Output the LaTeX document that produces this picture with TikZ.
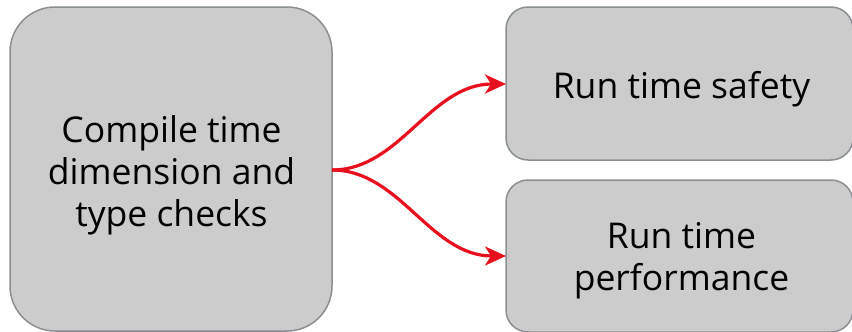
\documentclass[tikz,border=0pt]{standalone}
\usepackage{fontspec}
\setmainfont{Open Sans}
\usetikzlibrary{arrows.meta}
\definecolor{boxfill}{HTML}{CCCCCC}
\definecolor{boxline}{HTML}{8A8F92}
\definecolor{arrowred}{HTML}{E8101E}
\tikzset{
  box/.style={fill=boxfill,draw=boxline,line width=1.5pt},
  lbl/.style={font=\fontsize{35.5}{42}\selectfont,align=center,text=black},
  conn/.style={draw=arrowred,line width=3.2pt,-{Stealth[length=21pt,width=19pt,inset=6pt]}}
}
\begin{document}
\begin{tikzpicture}[x=1pt,y=-1pt]
\useasboundingbox (0,0) rectangle (852,332);
\clip (0,0) rectangle (852,332);
\draw[box,rounded corners=45pt] (10,7) rectangle (332,331);
\draw[box,rounded corners=22pt] (506,7) rectangle (853,160);
\draw[box,rounded corners=22pt] (506,180) rectangle (853,332);
\node[lbl] (a) at (171.5,175.5) {Compile time\\dimension and\\type checks};
\node[lbl] (b) at (681.5,89.5) {Run time safety};
\node[lbl] (c) at (681.5,260.5) {Run time\\performance};
\coordinate (s) at (332,170);
\coordinate (t1) at (506,84);
\coordinate (t2) at (506,256);
\draw[conn] (s) .. controls (400,170) and (430,84) .. (t1);
\draw[conn] (s) .. controls (400,170) and (430,256) .. (t2);
\end{tikzpicture}
\end{document}
